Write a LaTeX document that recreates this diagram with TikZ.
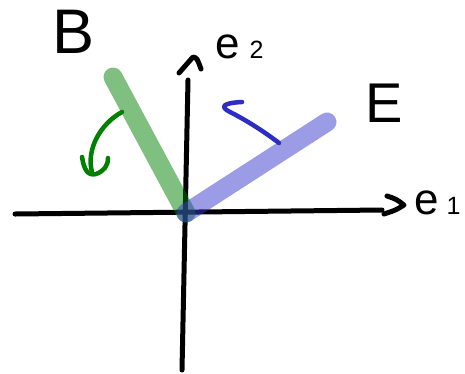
\documentclass[tikz,border=0pt]{standalone}
\usepackage{fontspec}
\setmainfont{Liberation Sans}
\definecolor{gbar}{RGB}{0,128,0}
\definecolor{bbar}{RGB}{56,56,205}
\definecolor{garrow}{RGB}{0,128,0}
\definecolor{barrow}{RGB}{45,45,195}
\tikzset{
  ink/.style={line width=5pt, line cap=round, line join=round},
  pen/.style={line width=4.5pt, line cap=round, line join=round},
  bar/.style={line width=19pt, line cap=round, opacity=0.5},
  lbl/.style={inner sep=0pt, anchor=base west},
}
\begin{document}
\begin{tikzpicture}[x=1pt,y=-1pt]
\useasboundingbox (0,0) rectangle (465,373);
% axes
\coordinate (xs) at (15,214);
\coordinate (xe) at (382,210);
\coordinate (ys) at (182,370);
\coordinate (ye) at (188,80);
\draw[ink] (xs) -- (xe);
\draw[ink] (ys) -- (ye);
\coordinate (xa1) at (387,196);
\coordinate (xa2) at (404,205);
\coordinate (xa3) at (384,214);
\draw[ink] (xa1) .. controls (396,199) .. (xa2) .. controls (396,210) .. (xa3);
\coordinate (ya1) at (179,73);
\coordinate (ya2) at (193,57);
\coordinate (ya3) at (201,69);
\draw[ink] (ya1) -- (ya2) .. controls (197,58) .. (ya3);
% bars
\coordinate (o) at (186,213);
\coordinate (bt) at (113,77);
\coordinate (et) at (327,122);
\draw[bar, gbar] (bt) -- (o);
\draw[bar, bbar] (o) -- (et);
% green curved arrow
\coordinate (g1) at (122,112);
\coordinate (g2) at (92,172);
\draw[pen, garrow] (g1) .. controls (100,124) and (86,150) .. (g2);
\draw[pen, garrow] (82,157) .. controls (84,170) and (88,176) .. (96,174) .. controls (104,171) and (108,166) .. (108,158);
% blue curved arrow
\coordinate (b1) at (279,143);
\coordinate (b2) at (230,112);
\draw[pen, barrow] (b1) .. controls (262,130) and (244,119) .. (b2) .. controls (220,107) and (222,103) .. (242,102);
% labels
\node[lbl] (lB) at (52,53) {\fontsize{63}{63}\selectfont B};
\node[lbl] (lE) at (365,122) {\fontsize{56}{56}\selectfont E};
\node[lbl] (le2) at (215,58) {\fontsize{44}{44}\selectfont e\hspace{10pt}\fontsize{25}{25}\selectfont 2};
\node[lbl] (le1) at (414,214) {\fontsize{44}{44}\selectfont e\hspace{8pt}\fontsize{25}{25}\selectfont 1};
\end{tikzpicture}
\end{document}
